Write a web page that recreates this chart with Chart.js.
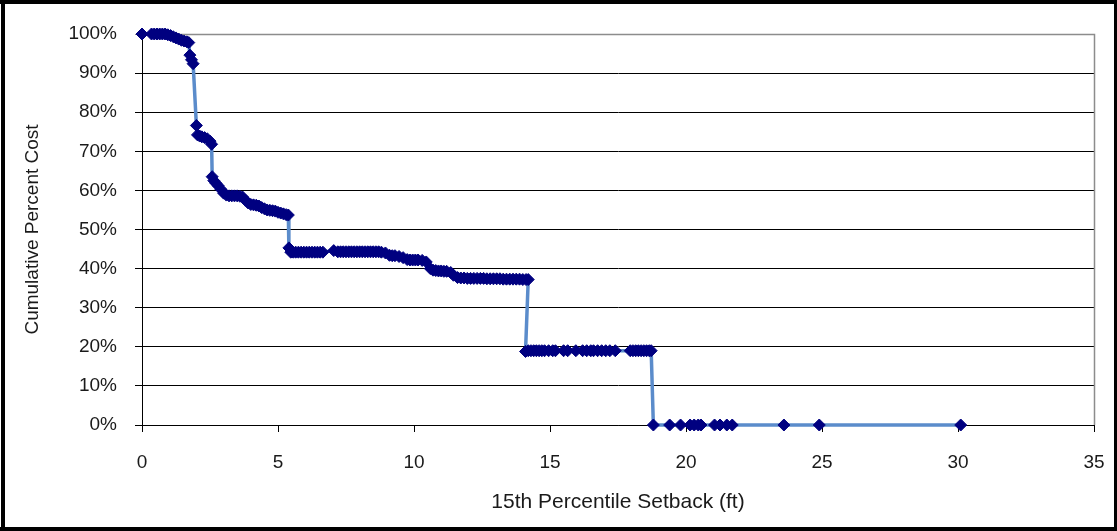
<!DOCTYPE html>
<html>
<head>
<meta charset="utf-8">
<script src="https://cdn.jsdelivr.net/npm/chart.js@4.4.1/dist/chart.umd.min.js"></script>
<style>
  html, body { margin: 0; padding: 0; background: #ffffff; }
  #wrap { position: absolute; left: 0; top: 0; width: 1117px; height: 531px; }
</style>
</head>
<body>
<div id="wrap"><canvas id="c" width="1117" height="531"></canvas></div>
<script>
// ---- Data ----
const seg1X = [0, 0.35, 0.45, 0.55, 0.65, 0.75, 0.85, 0.95, 1.05, 1.15, 1.25, 1.35, 1.45, 1.55, 1.65, 1.72, 1.76, 1.82, 1.88];
const seg1Y = [100, 100, 100, 100, 100, 100, 100, 99.8, 99.6, 99.3, 99.0, 98.7, 98.4, 98.2, 98.0, 97.8, 94.6, 93.4, 92.4];

const seg2X = [2.0, 2.04, 2.12, 2.2, 2.3, 2.4, 2.5, 2.56, 2.58, 2.64, 2.72, 2.8, 2.9, 3.0, 3.1, 3.2, 3.3, 3.4, 3.5, 3.6, 3.7, 3.8, 3.9, 4.0, 4.1, 4.2, 4.3, 4.4, 4.5, 4.6, 4.7, 4.8, 4.9, 5.0, 5.1, 5.2, 5.3, 5.38];
const seg2Y = [76.6, 74.2, 73.9, 73.7, 73.5, 73.2, 72.6, 71.8, 63.5, 62.5, 61.8, 61.2, 60.3, 59.3, 58.8, 58.6, 58.6, 58.6, 58.6, 58.5, 58.3, 57.5, 56.8, 56.4, 56.3, 56.2, 56.0, 55.6, 55.3, 55.0, 54.9, 54.8, 54.7, 54.4, 54.2, 54.0, 53.8, 53.7];

const seg3X = [5.4, 5.47, 5.56, 5.65, 5.75, 5.85, 5.95, 6.05, 6.15, 6.25, 6.35, 6.45, 6.55, 6.65, 7.05, 7.2, 7.3, 7.4, 7.5, 7.6, 7.7, 7.8, 7.9, 8.0, 8.1, 8.2, 8.3, 8.4, 8.5, 8.6, 8.7, 8.8, 8.95, 9.1, 9.2, 9.3, 9.45, 9.6, 9.75, 9.85, 9.95, 10.05, 10.15, 10.3, 10.45, 10.6, 10.7, 10.8, 10.9, 11.0, 11.1, 11.2, 11.35, 11.45, 11.6];
const seg3Y = [45.3, 44.2, 44.2, 44.2, 44.2, 44.2, 44.2, 44.2, 44.2, 44.2, 44.2, 44.2, 44.2, 44.2, 44.6, 44.3, 44.3, 44.3, 44.3, 44.3, 44.3, 44.3, 44.3, 44.3, 44.3, 44.3, 44.3, 44.3, 44.3, 44.3, 44.3, 44.2, 44.0, 43.4, 43.3, 43.3, 43.1, 42.8, 42.3, 42.2, 42.2, 42.2, 42.2, 42.1, 41.7, 40.0, 39.6, 39.5, 39.4, 39.4, 39.3, 39.3, 39.0, 38.3, 37.7];

const seg4X = [11.72, 11.84, 11.96, 12.08, 12.2, 12.32, 12.44, 12.56, 12.68, 12.8, 12.92, 13.04, 13.16, 13.28, 13.4, 13.52, 13.64, 13.76, 13.88, 14.0, 14.12, 14.2];
const seg4Y = [37.6, 37.6, 37.5, 37.5, 37.5, 37.5, 37.5, 37.5, 37.4, 37.4, 37.4, 37.4, 37.4, 37.3, 37.3, 37.3, 37.3, 37.3, 37.3, 37.2, 37.2, 37.2];

const seg5X = [14.1, 14.2, 14.3, 14.4, 14.5, 14.6, 14.7, 14.8, 14.95, 15.1, 15.2, 15.5, 15.65, 15.95, 16.2, 16.35, 16.5, 16.6, 16.75, 16.9, 17.05, 17.2, 17.4, 17.95, 18.05, 18.15, 18.25, 18.35, 18.45, 18.55, 18.65, 18.72];
const seg5Y = [18.8, 19.0, 19.0, 19.0, 19.0, 19.0, 19.0, 19.0, 19.0, 19.0, 19.0, 19.0, 19.0, 19.0, 19.0, 19.0, 19.0, 19.0, 19.0, 19.0, 19.0, 19.0, 19.0, 19.0, 19.0, 19.0, 19.0, 19.0, 19.0, 19.0, 19.0, 19.0];

const seg6X = [18.8, 19.4, 19.8, 20.15, 20.3, 20.45, 20.55, 21.05, 21.25, 21.5, 21.7, 23.6, 24.9, 30.1];
const seg6Y = [0, 0, 0, 0, 0, 0, 0, 0, 0, 0, 0, 0, 0, 0];

const xTickValues = [0, 5, 10, 15, 20, 25, 30, 35];
const yTickValues = [0, 10, 20, 30, 40, 50, 60, 70, 80, 90, 100];

const xTitle = '15th Percentile Setback (ft)';
const yTitle = 'Cumulative Percent Cost';

// ---- Build points ----
const allX = [].concat(seg1X, seg2X, seg3X, seg4X, seg5X, seg6X);
const allY = [].concat(seg1Y, seg2Y, seg3Y, seg4Y, seg5Y, seg6Y);
const points = allX.map((x, i) => ({ x: x, y: allY[i] }));

const FONT = "'Liberation Sans', Arial, sans-serif";
const TEXT = '#1a1a1a';

const frame = {
  id: 'frame',
  beforeDatasetsDraw(chart) {
    const { ctx, chartArea: a } = chart;
    ctx.save();
    ctx.strokeStyle = '#8c8c8c';
    ctx.lineWidth = 1.5;
    ctx.beginPath();
    ctx.moveTo(a.left, a.top + 0.5);
    ctx.lineTo(a.right + 0.5, a.top + 0.5);
    ctx.lineTo(a.right + 0.5, a.bottom);
    ctx.stroke();
    ctx.restore();
  },
  afterDraw(chart) {
    const ctx = chart.ctx;
    ctx.save();
    ctx.fillStyle = '#000';
    ctx.fillRect(0, 0, 1117, 4);
    ctx.fillRect(1, 0, 4, 531);
    ctx.fillRect(0, 527, 1117, 4);
    ctx.fillRect(1114, 0, 3, 531);
    ctx.restore();
  }
};

new Chart(document.getElementById('c'), {
  type: 'scatter',
  data: {
    datasets: [{
      data: points,
      showLine: true,
      borderColor: '#5b8ccb',
      borderWidth: 3.5,
      pointStyle: 'rectRot',
      pointRadius: 6,
      pointBorderWidth: 1,
      pointBackgroundColor: '#000080',
      pointBorderColor: '#000080',
      clip: false,
      tension: 0
    }]
  },
  options: {
    responsive: false,
    animation: false,
    devicePixelRatio: 1,
    layout: { padding: { left: 0, top: 34, right: 23, bottom: 0 } },
    plugins: { legend: { display: false }, tooltip: { enabled: false } },
    scales: {
      x: {
        type: 'linear',
        min: 0, max: 35,
        afterBuildTicks: (s) => { s.ticks = xTickValues.map(v => ({ value: v })); },
        afterFit: (s) => { s.height = 106; s.paddingLeft = 0; s.paddingRight = 0; },
        grid: { drawOnChartArea: false, drawTicks: true, tickLength: 7, color: '#000', lineWidth: 1 },
        border: { display: true, color: '#000', width: 1 },
        ticks: { padding: 19, color: TEXT, font: { family: FONT, size: 19 }, maxRotation: 0 },
        title: { display: true, text: xTitle, color: TEXT, font: { family: FONT, size: 21 }, padding: { top: 0, bottom: 16 } }
      },
      y: {
        type: 'linear',
        min: 0, max: 100,
        afterBuildTicks: (s) => { s.ticks = yTickValues.map(v => ({ value: v })); },
        afterFit: (s) => { s.width = 142; },
        grid: {
          drawTicks: true, tickLength: 7, lineWidth: 1,
          color: (c) => (c.tick && c.tick.value === 100 ? '#8c8c8c' : '#000')
        },
        border: { display: true, color: '#000', width: 1 },
        ticks: { padding: 18, color: TEXT, font: { family: FONT, size: 19 }, callback: (v) => v + '%' },
        title: { display: true, text: yTitle, color: TEXT, font: { family: FONT, size: 19 }, padding: { top: 21, bottom: 0 } }
      }
    }
  },
  plugins: [frame]
});
</script>
</body>
</html>
